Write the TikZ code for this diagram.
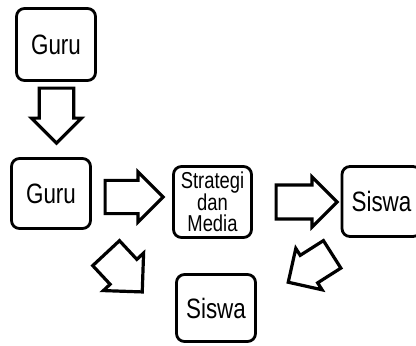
\documentclass[tikz,border=0pt]{standalone}
\usepackage{fontspec}
\setmainfont{Liberation Sans}[FakeStretch=0.8]
\usetikzlibrary{shapes.arrows}

\begin{document}
\begin{tikzpicture}[x=1pt, y=-1pt,
    box/.style={draw, line width=2.8pt, rounded corners=8pt, inner sep=0pt, font=\fontsize{28}{30}\selectfont},
    blockarrow/.style={single arrow, draw, line width=3.2pt, inner xsep=0pt, anchor=tail, minimum width=50pt}]
    \useasboundingbox (0,0) rectangle (416,346);

    % Boxes
    \node[box, minimum width=79pt, minimum height=72pt] (guruA) at (56,44.5) {Guru};
    \node[box, minimum width=79pt, minimum height=70pt] (guruB) at (51,193.5) {Guru};
    \node[box, minimum width=78pt, minimum height=71pt, align=center, font=\fontsize{23}{21.5}\selectfont] (media) at (212.5,202) {Strategi\\dan\\Media};
    \node[box, minimum width=79pt, minimum height=70pt] (siswaA) at (381.5,201.5) {Siswa};
    \node[box, minimum width=79pt, minimum height=67pt] (siswaB) at (216,308) {Siswa};

    % Block arrows
    \node[blockarrow, rotate=-90, minimum height=55pt, inner ysep=14pt] (arrA) at (56.5,86.5) {};
    \node[blockarrow, minimum height=58pt, inner ysep=12.5pt] (arrB) at (103.5,197) {};
    \node[blockarrow, minimum height=61pt, inner ysep=13.5pt] (arrC) at (274.5,202) {};
    \node[blockarrow, rotate=-47, minimum height=53pt, inner ysep=12.5pt, minimum width=55pt] (arrD) at (105,252) {};
    \node[blockarrow, rotate=212.4, minimum height=52pt, inner ysep=12.5pt, minimum width=49pt] (arrE) at (333.5,253.5) {};
\end{tikzpicture}
\end{document}
